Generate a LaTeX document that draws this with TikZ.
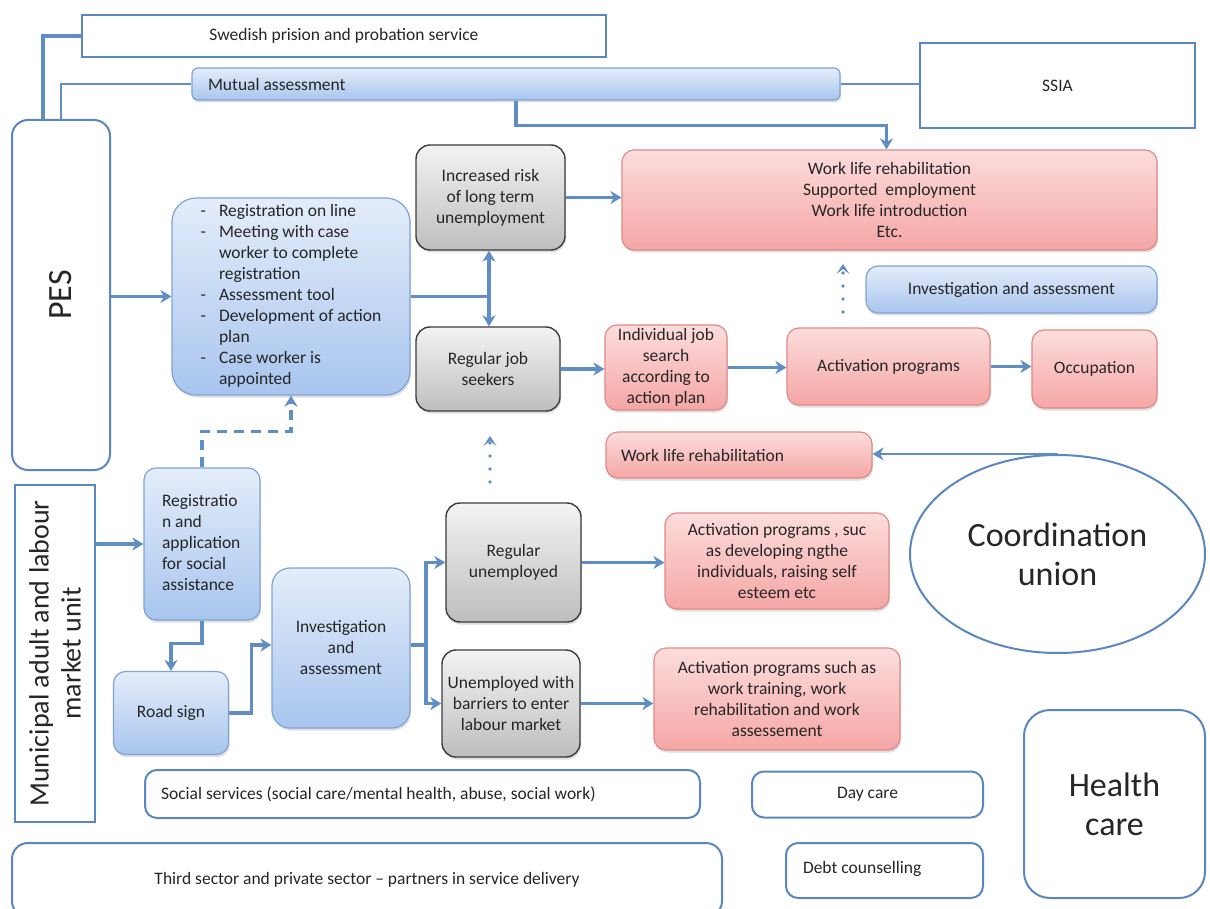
\documentclass[tikz,border=0pt]{standalone}
\usepackage{fontspec}
\setmainfont{Carlito}
\usetikzlibrary{arrows.meta,shapes.geometric,shadows}

\definecolor{edgeblue}{HTML}{5A87C2}
\definecolor{linkblue}{HTML}{5F8DC6}
\definecolor{blueedge}{HTML}{7FA3D6}
\definecolor{bluetop}{HTML}{E4EDFA}
\definecolor{bluebot}{HTML}{A8C5EE}
\definecolor{rededge}{HTML}{DE8A88}
\definecolor{redtop}{HTML}{FCDDDC}
\definecolor{redbot}{HTML}{F4A6A5}
\definecolor{grayedge}{HTML}{3C3C3C}
\definecolor{graytop}{HTML}{F3F3F3}
\definecolor{graybot}{HTML}{BEBEBE}
\definecolor{txt}{HTML}{262626}

\begin{document}
\begin{tikzpicture}[x=1pt,y=-1pt,
  every node/.style={font=\fontsize{17.5}{21}\selectfont, text=txt, align=center, inner sep=2pt},
  boxshadow/.style={drop shadow={shadow xshift=1pt,shadow yshift=-2.5pt,opacity=0.25}},
  plainbox/.style={rectangle, draw=edgeblue, line width=2.2pt, fill=white},
  softbox/.style={rectangle, draw=edgeblue, line width=2pt, fill=white, rounded corners=12pt},
  bluebox/.style={rectangle, rounded corners=12pt, draw=blueedge, line width=1.2pt,
                  top color=bluetop, bottom color=bluebot, boxshadow},
  redbox/.style={rectangle, rounded corners=12pt, draw=rededge, line width=1.2pt,
                 top color=redtop, bottom color=redbot, boxshadow},
  graybox/.style={rectangle, rounded corners=14pt, draw=grayedge, line width=1.4pt,
                  top color=graytop, bottom color=graybot, boxshadow},
  link/.style={draw=linkblue, line width=3.2pt},
  thinlink/.style={draw=linkblue, line width=1.7pt},
  tip/.style={-{Stealth[length=11pt,width=13pt,inset=3.5pt]}},
  dotlink/.style={draw=linkblue, line width=3.8pt, line cap=round, dash pattern=on 0pt off 13pt,
                  -{Stealth[length=10pt,width=13pt,inset=5pt]}},
  dashlink/.style={draw=linkblue, line width=3.2pt, dash pattern=on 10pt off 7pt},
  bigfont/.style={font=\fontsize{34}{39}\selectfont}
]
\clip (0,0) rectangle (1210,909);
\fill[white] (0,0) rectangle (1210,909);

% ---- top row of partners
\node[plainbox, minimum width=524pt, minimum height=42pt] (swedish) at (344,36)
  {Swedish prision and probation service};
\node[bluebox, rounded corners=6pt, minimum width=648pt, minimum height=32pt,
      inner xsep=15pt] (mutual) at (516,84) {\makebox[616pt][l]{Mutual assessment}};
\node[plainbox, minimum width=275pt, minimum height=85pt] (ssia) at (1057.5,85.5) {SSIA};

% ---- PES column
\node[softbox, rounded corners=16pt, minimum width=98pt, minimum height=350pt] (pes) at (61,295) {};
\node[rotate=90, bigfont] (peslabel) at (pes.center) {PES};

\node[bluebox, rounded corners=24pt, minimum width=238pt, minimum height=197pt] (plan) at (291,296.5)
  {\begin{tabular}{@{}l@{\hspace{13pt}}l@{}}
   -&Registration on line\\
   -&Meeting with case\\
    &worker to complete\\
    &registration\\
   -&Assessment tool\\
   -&Development of action\\
    &plan\\
   -&Case worker is\\
    &appointed
   \end{tabular}};

\node[graybox, minimum width=149pt, minimum height=105pt] (risk) at (490.5,197.5)
  {Increased risk\\of long term\\unemployment};
\node[graybox, minimum width=144pt, minimum height=84pt] (rjs) at (488,369)
  {Regular job\\seekers};

\node[redbox, minimum width=535pt, minimum height=100pt] (worklife) at (889.5,200)
  {Work life rehabilitation\\Supported\ \ employment\\Work life introduction\\Etc.};
\node[bluebox, minimum width=291pt, minimum height=47pt] (inv1) at (1011.5,289.5)
  {Investigation and assessment};

\node[redbox, minimum width=122pt, minimum height=85pt] (ijs) at (666,367.5)
  {Individual job\\search\\according to\\action plan};
\node[redbox, minimum width=203pt, minimum height=77pt] (act) at (888.5,366.5)
  {Activation programs};
\node[redbox, minimum width=125pt, minimum height=78pt] (occ) at (1094.5,369)
  {Occupation};

\node[redbox, minimum width=266pt, minimum height=46pt, inner xsep=14pt] (wlr) at (739,455)
  {\makebox[236pt][l]{Work life rehabilitation}};

\node[ellipse, draw=edgeblue, line width=2pt, minimum width=295pt, minimum height=198pt,
      inner sep=0pt, bigfont] (coord) at (1057.5,554) {Coordination\\union};

% ---- municipal column
\node[plainbox, minimum width=80pt, minimum height=337pt] (muni) at (55,653.5) {};
\node[rotate=90, font=\fontsize{28}{32}\selectfont] (munilabel) at (muni.center)
  {Municipal adult and labour\\market unit};

\node[bluebox, minimum width=116pt, minimum height=152pt, inner xsep=17pt] (reg) at (202,544)
  {\makebox[80pt][l]{\begin{tabular}{@{}l@{}}Registratio\\n and\\application\\for social\\assistance\end{tabular}}};
\node[bluebox, minimum width=115pt, minimum height=83pt] (road) at (171,713) {Road sign};
\node[bluebox, rounded corners=18pt, minimum width=138pt, minimum height=160pt] (inv2) at (341,648)
  {Investigation\\and\\assessment};

\node[graybox, minimum width=135pt, minimum height=119pt] (runemp) at (513.5,562.5)
  {Regular\\unemployed};
\node[graybox, minimum width=138pt, minimum height=107pt] (barr) at (511,703.5)
  {Unemployed with\\barriers to enter\\labour market};
\node[redbox, minimum width=224pt, minimum height=96pt] (act2) at (777,561)
  {Activation programs , suc\\as developing ngthe\\individuals, raising self\\esteem etc};
\node[redbox, minimum width=246pt, minimum height=102pt] (act3) at (777,699)
  {Activation programs such as\\work training, work\\rehabilitation and work\\assessement};

% ---- bottom row of partners
\node[softbox, minimum width=555pt, minimum height=48pt, inner xsep=15pt] (social) at (422.5,794)
  {\makebox[523pt][l]{Social services (social care/mental health, abuse, social work)}};
\node[softbox, rounded corners=16pt, minimum width=710pt, minimum height=74pt] (third) at (367,880)
  {Third sector and private sector -- partners in service delivery};
\node[softbox, minimum width=231pt, minimum height=46pt] (daycare) at (867.5,794.5) {Day care};
\node[softbox, minimum width=197pt, minimum height=55pt, inner xsep=16pt] (debt) at (884.5,870.5)
  {\makebox[163pt][l]{\raisebox{6pt}{Debt counselling}}};
\node[softbox, rounded corners=26pt, minimum width=181pt, minimum height=188pt, bigfont] (health)
  at (1114.5,804) {Health\\care};

% ---- connectors
\coordinate (fork1) at (489,296.5);
\coordinate (fork2) at (426,645);
\coordinate (dotAs) at (843,312);
\coordinate (dotAe) at (843,264);
\coordinate (dotBs) at (490,482);
\coordinate (dotBe) at (490,436);

\draw[link] ([xshift=-18pt]pes.north) |- (swedish.west);
\draw[thinlink] (pes.north) |- (mutual.west);
\draw[thinlink] (mutual.east) -- (mutual.east -| ssia.west);
\draw[link, tip] (mutual.south) -- ++(0,25) -| ([xshift=-3pt]worklife.north);

\draw[link, tip] (pes.east |- plan.west) -- (plan.west);
\draw[link] (plan.east |- fork1) -- (fork1);
\draw[link, tip] (fork1) -- (fork1 |- risk.south);
\draw[link, tip] (fork1) -- (fork1 |- rjs.north);
\draw[link, tip] (risk.east) -- (risk.east -| worklife.west);

\draw[link, tip] (rjs.east) -- (rjs.east -| ijs.west);
\draw[link, tip] (ijs.east) -- (ijs.east -| act.west);
\draw[link, tip] (act.east) -- (act.east -| occ.west);

\draw[dotlink] (dotAs) -- (dotAe);
\draw[dotlink] (dotBs) -- (dotBe);

\draw[thinlink, tip] (coord.north) -- (coord.north -| wlr.east);

\draw[link, tip] (muni.east |- reg.west) -- (reg.west);
\draw[dashlink, tip] (reg.north) -- ++(0,-36) -| (plan.south);
\draw[link, tip] (reg.south) -- ++(0,23) -| (road.north);
\draw[link, tip] (road.east) -- ++(22,0) |- ([yshift=3pt]inv2.west);
\draw[link] (inv2.east |- fork2) -- (fork2);
\draw[link, tip] (fork2) |- (runemp.west);
\draw[link, tip] (fork2) |- (barr.west);
\draw[link, tip] (runemp.east) -- (runemp.east -| act2.west);
\draw[link, tip] (barr.east) -- (barr.east -| act3.west);
\end{tikzpicture}
\end{document}
